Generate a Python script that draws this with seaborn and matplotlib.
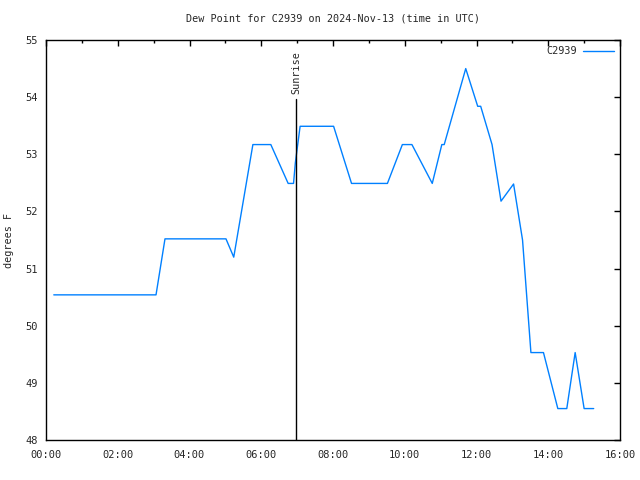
import matplotlib
matplotlib.use("Agg")
import matplotlib.pyplot as plt
import matplotlib.ticker as mticker
import seaborn as sns
import pandas as pd

times = ["00:13", "03:04", "03:19", "05:01", "05:14", "05:46", "06:16", "06:45",
         "06:54", "06:57", "07:05", "08:01", "08:31", "09:31", "09:56", "10:12",
         "10:46", "11:02", "11:06", "11:42", "12:02", "12:07", "12:26", "12:41",
         "13:02", "13:17", "13:31", "13:52", "14:16", "14:31", "14:45", "15:00",
         "15:16"]
dewpoint = [50.54, 50.54, 51.52, 51.52, 51.2, 53.17, 53.17, 52.49,
            52.49, 52.85, 53.49, 53.49, 52.49, 52.49, 53.17, 53.17,
            52.49, 53.17, 53.17, 54.5, 53.84, 53.84, 53.17, 52.18,
            52.48, 51.5, 49.53, 49.53, 48.55, 48.55, 49.53, 48.55,
            48.55]
station = "C2939"
sunrise_time = "06:58"
sunrise_top = 53.96
title = "Dew Point for C2939 on 2024-Nov-13 (time in UTC)"
ylabel = "degrees F"


def to_hours(s):
    h, m = s.split(":")
    return int(h) + int(m) / 60.0


df = pd.DataFrame({"hours": [to_hours(t) for t in times], "dew": dewpoint,
                   "station": station})

sns.set_style("white")
plt.rcParams["font.family"] = ["DejaVu Sans Mono"]

fig = plt.figure(figsize=(6.4, 4.8), dpi=100)
ax = fig.add_axes([46 / 640, 40 / 480, (620 - 46) / 640, 400 / 480])

sns.lineplot(data=df, x="hours", y="dew", ax=ax, color="#0080ff",
             linewidth=1.0, sort=False, label=station, legend=False)

sr = to_hours(sunrise_time)
ax.plot([sr, sr], [48, sunrise_top], color="black", linewidth=1.0)
ax.text(sr, sunrise_top + 0.1, "Sunrise", rotation=90, ha="center",
        va="bottom", fontsize=7.3)

ax.set_xlim(0, 16)
ax.set_ylim(48, 55)
ax.xaxis.set_major_locator(mticker.MultipleLocator(2))
ax.xaxis.set_minor_locator(mticker.MultipleLocator(1))
ax.yaxis.set_major_locator(mticker.MultipleLocator(1))
ax.xaxis.set_major_formatter(mticker.FuncFormatter(
    lambda v, p: "%02d:%02d" % (int(v), int(round((v - int(v)) * 60)))))
ax.yaxis.set_major_formatter(mticker.FormatStrFormatter("%d"))

ax.tick_params(axis="both", which="both", direction="in", top=True,
               right=True, color="black", width=1.0, labelsize=7.5)
ax.tick_params(axis="both", which="major", length=4.5)
ax.tick_params(axis="both", which="minor", length=2.5)
ax.tick_params(axis="x", which="major", pad=7)
ax.tick_params(axis="y", which="major", pad=6)

for sp in ax.spines.values():
    sp.set_color("black")
    sp.set_linewidth(1.0)

ax.set_xlabel("")
ax.set_ylabel(ylabel, fontsize=7.3, labelpad=8)
ax.set_title(title, fontsize=7.3, pad=13)

leg = ax.legend(loc="upper right", frameon=False, fontsize=7.3,
                handlelength=3.0, markerfirst=False, borderaxespad=0.2,
                handletextpad=0.6)

fig.savefig("out.png", dpi=100)
